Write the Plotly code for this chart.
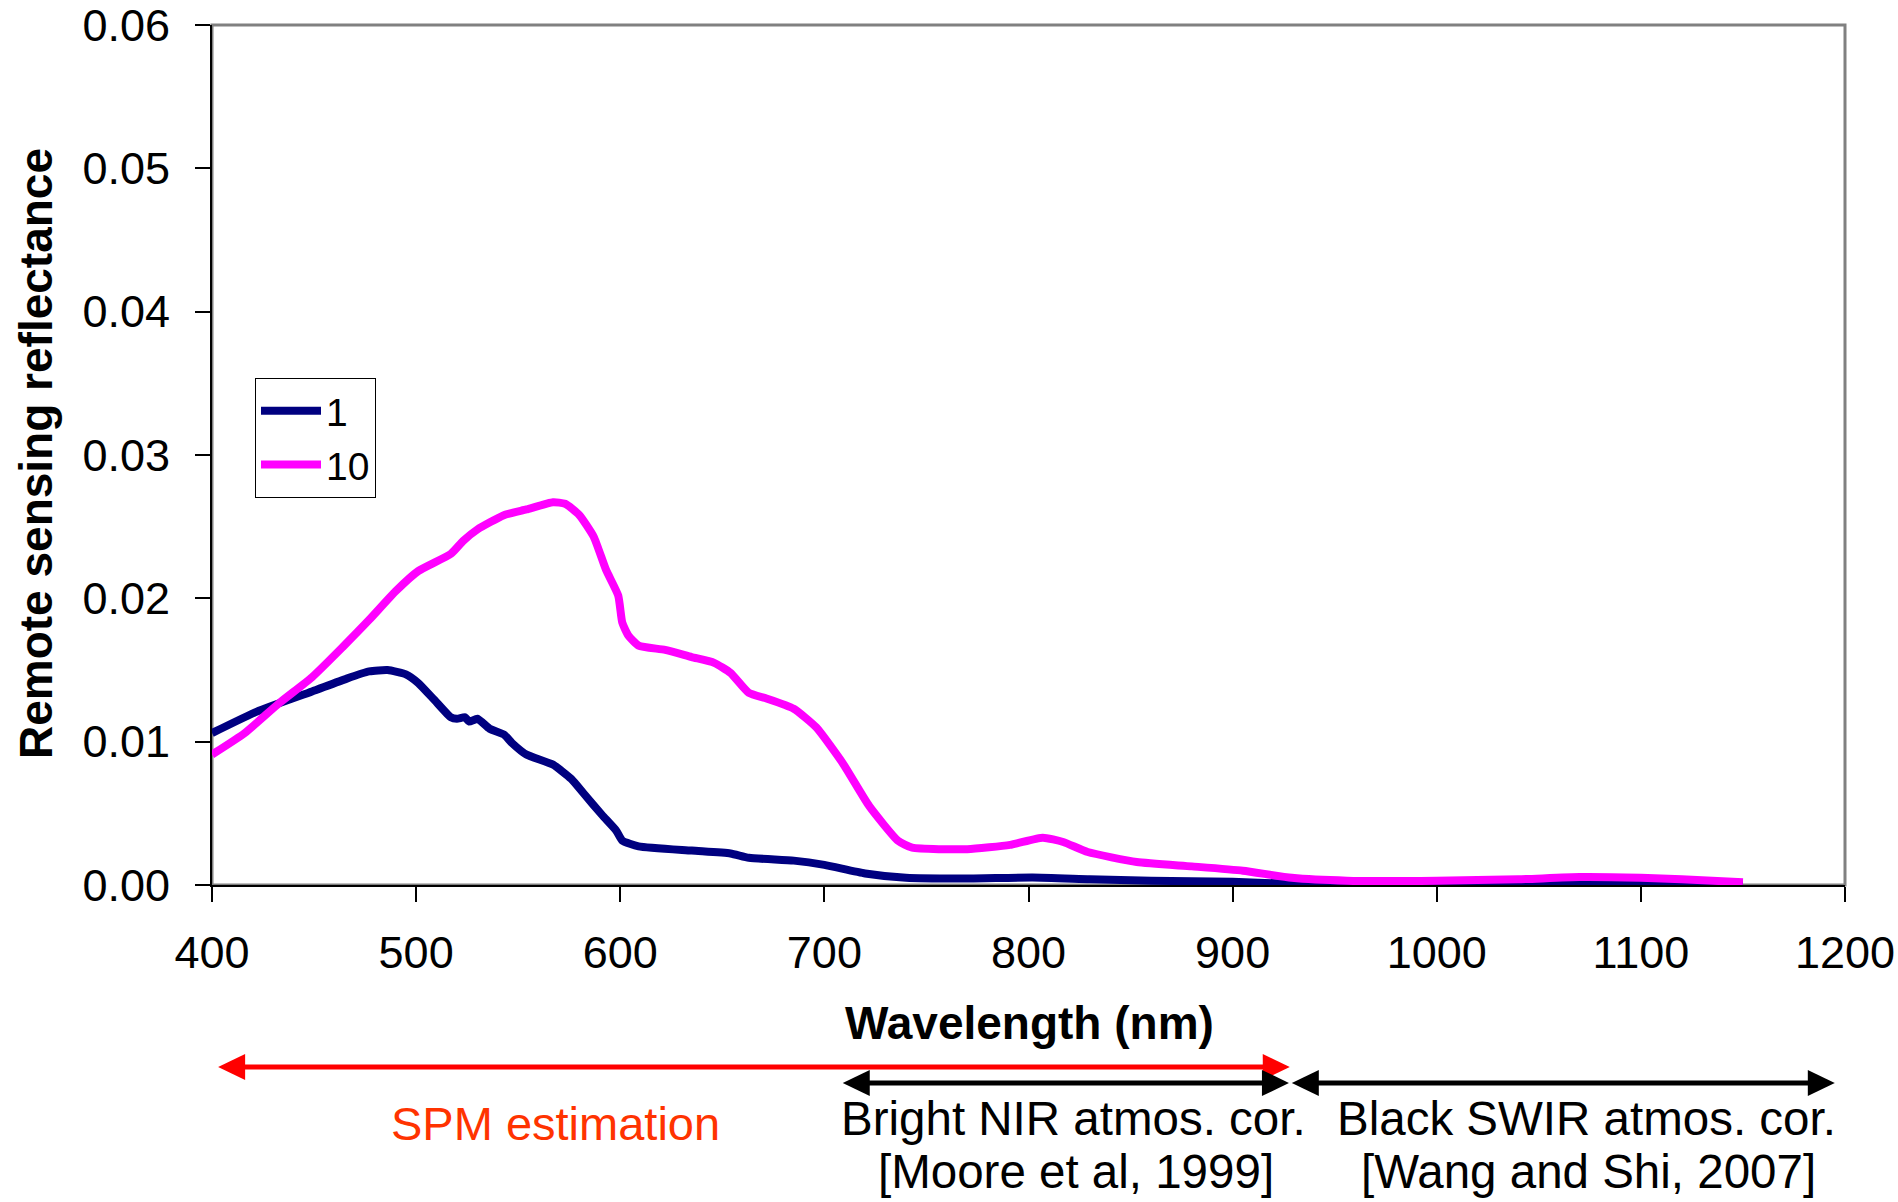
import plotly.graph_objects as go

# ---- data ----
wl_1 = [400, 422, 449, 466, 477, 486, 495, 501, 509, 517, 520, 524, 526, 530, 536,
        543, 547, 554, 567, 576, 582, 591, 598, 601, 609, 635, 654, 663, 685, 700,
        720, 740, 770, 802, 830, 860, 900, 925, 950, 1000, 1050, 1070, 1100, 1150]
rrs_1 = [0.0106, 0.0121, 0.0135, 0.0144, 0.0149, 0.0150, 0.0147, 0.0141, 0.0129, 0.0117,
         0.0116, 0.0117, 0.0114, 0.0116, 0.0109, 0.0105, 0.0099, 0.0091, 0.0084, 0.0074,
         0.0064, 0.0049, 0.0038, 0.0031, 0.0027, 0.0024, 0.0022, 0.0019, 0.0017, 0.0014,
         0.0008, 0.0005, 0.00045, 0.00052, 0.0004, 0.0003, 0.00022, 0.0001, 0.0001, 0.0001,
         0.00012, 0.00015, 0.0001, 0.00005]

wl_10 = [400, 416, 433, 449, 464, 477, 490, 501, 517, 523, 530, 543, 554, 567, 573,
         580, 587, 593, 599, 601, 604, 609, 622, 635, 646, 654, 663, 672, 685, 696,
         709, 722, 736, 743, 770, 791, 807, 817, 829, 853, 880, 905, 929, 956, 1000,
         1040, 1070, 1100, 1120, 1150]
rrs_10 = [0.0091, 0.0106, 0.0127, 0.0145, 0.0166, 0.0185, 0.0205, 0.0219, 0.0231, 0.0240,
          0.0248, 0.0258, 0.0262, 0.0267, 0.0266, 0.0258, 0.0243, 0.0220, 0.0202, 0.0183,
          0.0174, 0.0167, 0.0164, 0.0159, 0.0155, 0.0148, 0.0134, 0.0130, 0.0123, 0.0110,
          0.0085, 0.0055, 0.0031, 0.0026, 0.0025, 0.0028, 0.0033, 0.0030, 0.0023, 0.0016,
          0.0013, 0.0010, 0.0005, 0.0003, 0.0003, 0.0004, 0.00055, 0.0005, 0.0004, 0.0002]

series_names = ["1", "10"]
x_ticks = [400, 500, 600, 700, 800, 900, 1000, 1100, 1200]
y_ticks = [0.00, 0.01, 0.02, 0.03, 0.04, 0.05, 0.06]
y_tick_labels = ["0.00", "0.01", "0.02", "0.03", "0.04", "0.05", "0.06"]

# wavelength spans of the range arrows below the axis
span_starts = [403, 709, 929]
span_ends = [928, 927.6, 1195]
span_titles = ["SPM estimation", "Bright NIR atmos. cor.", "Black SWIR atmos. cor."]
span_refs = ["", "[Moore et al, 1999]", "[Wang and Shi, 2007]"]

FONT = "Liberation Sans, Arial, sans-serif"
W, H = 1898, 1202
L, R, T, B = 212, 53, 25, 317
plot_w = W - L - R
plot_h = H - T - B

fig = go.Figure()
fig.add_trace(go.Scatter(x=wl_1, y=rrs_1, name=series_names[0], mode="lines",
                         line=dict(color="#000080", width=8, shape="spline", smoothing=0.5)))
fig.add_trace(go.Scatter(x=wl_10, y=rrs_10, name=series_names[1], mode="lines",
                         line=dict(color="#FF00FF", width=8, shape="spline", smoothing=0.5)))

def py(pix):
    return (H - B - pix) / plot_h

def px(pix):
    return (pix - L) / plot_w

shapes = [dict(type="rect", xref="paper", yref="paper", x0=0, x1=1, y0=0, y1=1,
               line=dict(color="#808080", width=3), layer="below")]

# arrows
head_len = 27 * 800 / plot_w
head_half = 13 / plot_h
arrow_specs = [(span_starts[0], span_ends[0], py(1067), "#FF0000", 5),
               (span_starts[1], span_ends[1], py(1083), "#000000", 5),
               (span_starts[2], span_ends[2], py(1083), "#000000", 5)]
for x0, x1, yy, col, lw in arrow_specs:
    shapes.append(dict(type="line", xref="x", yref="paper", x0=x0 + head_len * 0.8,
                       x1=x1 - head_len * 0.8, y0=yy, y1=yy, line=dict(color=col, width=lw)))
    shapes.append(dict(type="path", xref="x", yref="paper",
                       path=f"M {x0} {yy} L {x0 + head_len} {yy + head_half} L {x0 + head_len} {yy - head_half} Z",
                       fillcolor=col, line=dict(color=col, width=0)))
    shapes.append(dict(type="path", xref="x", yref="paper",
                       path=f"M {x1} {yy} L {x1 - head_len} {yy + head_half} L {x1 - head_len} {yy - head_half} Z",
                       fillcolor=col, line=dict(color=col, width=0)))

def ann(text, x, y, size=47, color="black", angle=0):
    return dict(text=text, xref="paper", yref="paper", x=px(x), y=py(y),
                xanchor="center", yanchor="middle", textangle=angle,
                showarrow=False, align="center",
                font=dict(family=FONT, size=size, color=color))

annotations = [
    ann("<b>Wavelength (nm)</b>", 1029, 1023, size=46),
    ann("<b>Remote sensing reflectance</b>", 36, 454, size=46, angle=-90),
    ann(span_titles[0], 555, 1123, color="#FF3300"),
    ann(span_titles[1], 1073, 1118, size=47.5),
    ann(span_refs[1], 1076, 1171, size=47.5),
    ann(span_titles[2], 1586, 1118, size=47.5),
    ann(span_refs[2], 1588, 1171, size=47.5),
]

fig.update_layout(
    width=W, height=H,
    margin=dict(l=L, r=R, t=T, b=B, autoexpand=False),
    paper_bgcolor="white", plot_bgcolor="white",
    font=dict(family=FONT, color="black"),
    showlegend=True,
    legend=dict(x=px(255), y=py(378), xanchor="left", yanchor="top",
                bordercolor="black", borderwidth=1, bgcolor="white",
                font=dict(family=FONT, size=39, color="black"),
                itemwidth=60),
    shapes=shapes,
    annotations=annotations,
)
fig.update_xaxes(range=[400, 1200], tickmode="array", tickvals=x_ticks,
                 ticks="outside", ticklen=15, tickwidth=1.5, tickcolor="black",
                 showline=True, linecolor="black", linewidth=2, showgrid=False,
                 zeroline=False, tickfont=dict(family=FONT, size=45, color="black"),
                 ticklabelstandoff=12, ticklabeloverflow="allow")
fig.update_yaxes(range=[-0.0000001, 0.0600001], tickmode="array", tickvals=y_ticks, ticktext=y_tick_labels,
                 ticks="outside", ticklen=15, tickwidth=1.5, tickcolor="black",
                 showline=True, linecolor="black", linewidth=2, showgrid=False,
                 zeroline=False, tickfont=dict(family=FONT, size=45, color="black"),
                 ticklabelstandoff=16, ticklabeloverflow="allow")

fig.write_html("out.html")
